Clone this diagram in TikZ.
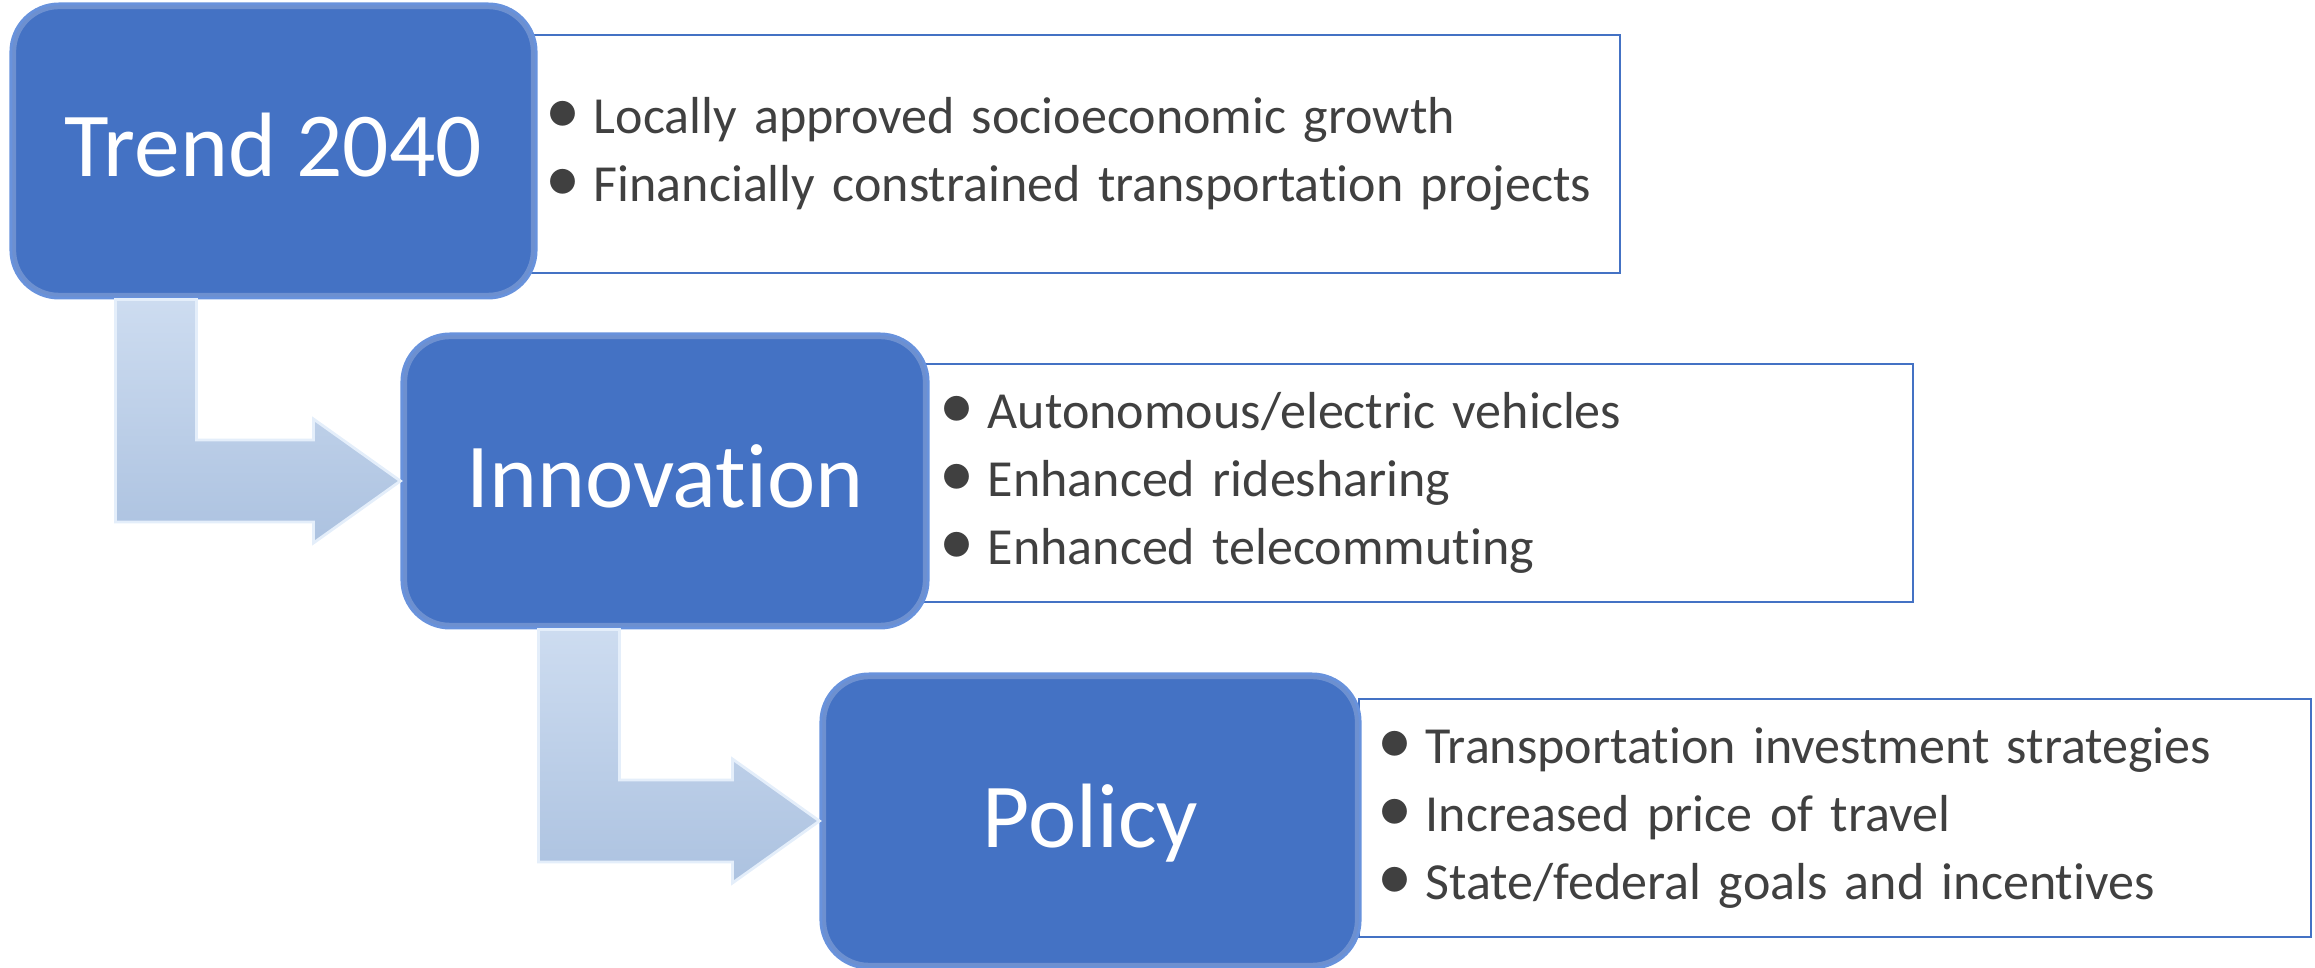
\documentclass[tikz,border=0pt]{standalone}
\usepackage{fontspec}
\usepackage{graphicx}
\setmainfont{Carlito}[Ligatures={TeX,NoCommon}]
\usetikzlibrary{calc}

\definecolor{stageblue}{RGB}{68,114,196}
\definecolor{stageedge}{RGB}{104,146,220}
\definecolor{arrowtop}{RGB}{205,220,240}
\definecolor{arrowbot}{RGB}{172,194,224}
\definecolor{arrowedge}{RGB}{228,238,250}
\definecolor{listgray}{RGB}{64,64,64}

\tikzset{
    stagebox/.style={fill=stageblue, draw=stageedge, line width=0.8pt, rounded corners=0.48cm,
        minimum height=2.94cm, inner sep=0pt, text height=0.52cm, text depth=0cm,
        text=white, font=\fontsize{26pt}{31pt}\selectfont,
        path picture={\draw[white, opacity=0.22, line width=3pt, rounded corners=0.48cm]
            (path picture bounding box.north west) rectangle (path picture bounding box.south east);}},
    listbox/.style={draw=stageblue, line width=0.6pt, fill=white, minimum height=2.38cm,
        inner xsep=0.25cm, inner ysep=0pt, align=left, text=listgray,
        font=\fontsize{14.8pt}{19.4pt}\selectfont},
    flowarrow/.style={top color=arrowtop, bottom color=arrowbot, draw=arrowedge,
        line width=0.8pt, line join=miter}
}

\newcommand{\itembullet}{\makebox[0.42cm][l]{\hspace{-0.06cm}\scalebox{1.35}{\textbullet}}}
% bent block arrow: from below #1 round the corner into the west side of #2
\newcommand{\bentarrow}[3]{%
    \coordinate (s) at ($(#1.south west)+(#3,0)$);
    \coordinate (t) at (#2.west);
    \path[flowarrow] (s) -- ++(81,0) -- ($(s |- t)+(81,-41)$) -- ($(t)+(-87,-41)$)
        -- ($(t)+(-87,-62)$) -- (t) -- ($(t)+(-87,62)$) -- ($(t)+(-87,41)$)
        -- ($(s |- t)+(0,41)$) -- cycle;
}

\begin{document}
\begin{tikzpicture}[x=0.01cm, y=-0.01cm]
        \useasboundingbox (0,0) rectangle (2315,968);
        % The lists sit behind the blue boxes.
            \node[listbox, text width=10.43cm] (trendlist) at (1073.5,154)
                {\itembullet Locally approved socioeconomic growth\\
                 \itembullet Financially constrained transportation projects};
            \node[listbox, text width=9.42cm] (innovlist) at (1417,483)
                {\itembullet Autonomous/electric vehicles\\
                 \itembullet Enhanced ridesharing\\
                 \itembullet Enhanced telecommuting};
            \node[listbox, text width=9.02cm] (policylist) at (1835,818)
                {\itembullet Transportation investment strategies\\
                 \itembullet Increased price of travel\\
                 \itembullet State/federal goals and incentives};
        % Below nodes are the three stages.
            \node[stagebox, minimum width=5.25cm] (trend) at (273.5,151) {Trend 2040};
            \node[stagebox, minimum width=5.26cm] (innov) at (665,481) {Innovation};
            \node[stagebox, minimum width=5.39cm] (policy) at (1090.5,821) {Policy};
        % This draws the arrows between the stages.
            \bentarrow{trend}{innov}{106}
            \bentarrow{innov}{policy}{138}
    \end{tikzpicture}
\end{document}
